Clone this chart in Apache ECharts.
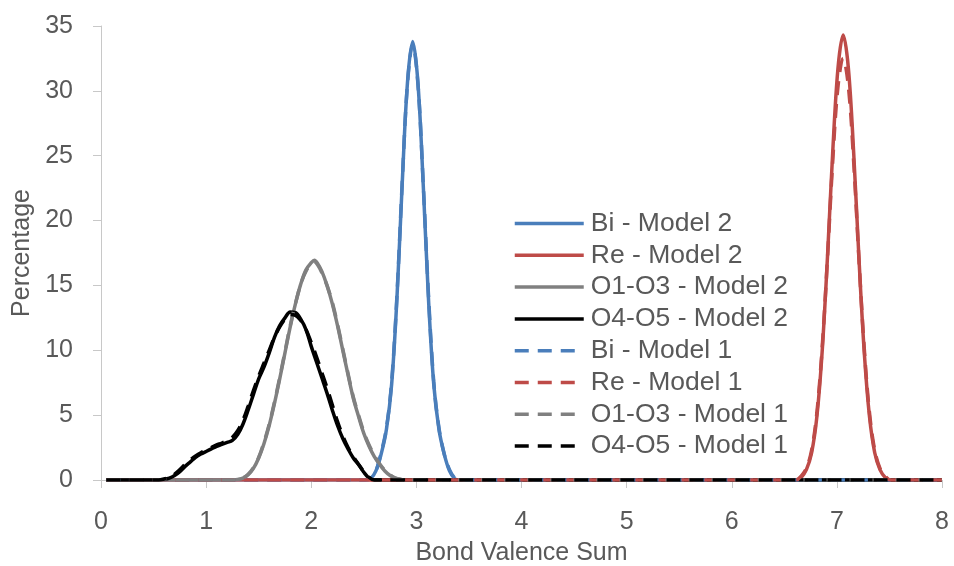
<!DOCTYPE html>
<html>
<head>
<meta charset="utf-8">
<script src="https://cdn.jsdelivr.net/npm/echarts@6/dist/echarts.min.js"></script>
<style>
html,body{margin:0;padding:0;background:#fff;}
#chart{width:954px;height:566px;}
</style>
</head>
<body>
<div id="chart"></div>
<script>
// ---- data ----
const rangeX = [0.05, 8];   // every curve runs flat along 0 from here to here

const biX  = [2.515,2.565,2.615,2.665,2.715,2.765,2.815,2.865,2.915,2.965,3.015,3.065,3.115,3.165,3.215,3.265,3.315,3.365,3.415];
const biM2 = [0,0.1,0.7,2.0,3.9,7.4,14.0,22.8,30.6,33.8,30.6,22.8,14.0,7.4,3.9,2.0,0.7,0.1,0];
const biM1 = [0,0.1,0.7,2.1,4.0,7.6,14.2,22.9,30.5,33.6,30.5,22.9,14.3,7.6,4.0,2.0,0.8,0.15,0];

const reX  = [6.61,6.66,6.71,6.76,6.81,6.86,6.91,6.96,7.01,7.06,7.11,7.16,7.21,7.26,7.31,7.36,7.41,7.46,7.51];
const reM2 = [0,0.2,0.8,2.1,4.9,9.9,17.1,25.2,31.7,34.3,31.7,25.2,17.1,9.9,4.9,2.1,0.8,0.2,0];
const reM1 = [0,0.3,0.9,2.3,5.2,10.2,17.0,24.5,30.3,32.5,30.3,24.5,17.0,10.2,5.2,2.3,0.9,0.3,0];

const oaX  = [1.20,1.25,1.30,1.35,1.40,1.45,1.50,1.55,1.60,1.65,1.70,1.75,1.80,1.85,1.90,1.95,2.00,2.03,2.06,2.10,2.15,2.20,2.25,2.30,2.35,2.40,2.45,2.50,2.55,2.60,2.65,2.70,2.75,2.80,2.85,2.90,2.95];
const oaM2 = [0,0,0.05,0.15,0.4,0.9,1.7,2.8,4.2,5.9,7.8,9.8,11.8,13.6,15.1,16.2,16.75,16.95,16.7,16.1,15.0,13.6,11.9,10.0,8.1,6.3,4.9,3.6,2.6,1.8,1.2,0.7,0.35,0.15,0.05,0,0];
const oaM1 = [0,0,0.05,0.15,0.45,0.95,1.75,2.9,4.3,6.0,7.9,9.9,11.9,13.6,15.1,16.1,16.65,16.8,16.6,16.0,15.0,13.7,12.0,10.1,8.2,6.4,5.0,3.7,2.7,1.9,1.25,0.75,0.4,0.15,0.05,0,0];

const obX  = [0.45,0.50,0.55,0.60,0.65,0.70,0.75,0.80,0.85,0.90,0.95,1.00,1.05,1.10,1.15,1.20,1.25,1.30,1.35,1.40,1.45,1.50,1.55,1.60,1.65,1.70,1.75,1.80,1.85,1.90,1.95,2.00,2.05,2.10,2.15,2.20,2.25,2.30,2.35,2.40,2.45,2.50,2.55,2.60,2.65,2.70];
const obM2 = [0,0,0,0.05,0.15,0.35,0.65,1.05,1.4,1.75,2.0,2.2,2.4,2.6,2.75,2.9,3.05,3.5,4.3,5.4,6.6,7.8,8.7,9.8,11.0,11.9,12.5,12.95,12.9,12.4,11.6,10.3,9.1,7.9,6.7,5.4,4.2,3.2,2.4,1.7,1.2,0.6,0.15,0,0,0];
const obM1 = [0,0,0,0.08,0.2,0.45,0.8,1.2,1.55,1.85,2.1,2.3,2.5,2.7,2.85,3.05,3.3,3.8,4.6,5.7,6.9,8.0,9.0,10.0,11.0,11.8,12.4,12.75,12.7,12.3,11.6,10.6,9.5,8.3,7.1,5.8,4.5,3.4,2.5,1.8,1.2,0.65,0.2,0,0,0];

const seriesNames = ['Bi - Model 2','Re - Model 2','O1-O3 - Model 2','O4-O5 - Model 2',
                     'Bi - Model 1','Re - Model 1','O1-O3 - Model 1','O4-O5 - Model 1'];

const xTicks = {min:0, max:8, step:1};
const yTicks = {min:0, max:35, step:5};

// ---- build ----
function pairs(xs, ys){
  const out = [[rangeX[0], 0]];
  for (let i = 0; i < xs.length; i++) out.push([xs[i], ys[i]]);
  out.push([rangeX[1], 0]);
  return out;
}
const colors = {bi:'#4A7EBB', re:'#BE4B48', oa:'#808080', ob:'#000000'};
const defs = [
  [biX, biM2, colors.bi, 'solid'],
  [reX, reM2, colors.re, 'solid'],
  [oaX, oaM2, colors.oa, 'solid'],
  [obX, obM2, colors.ob, 'solid'],
  [biX, biM1, colors.bi, 'dashed'],
  [reX, reM1, colors.re, 'dashed'],
  [oaX, oaM1, colors.oa, 'dashed'],
  [obX, obM1, colors.ob, 'dashed']
];
const FONT = 'Liberation Sans';
const TXT = '#595959';
const series = defs.map((d, i) => ({
  name: seriesNames[i],
  type: 'line',
  data: pairs(d[0], d[1]),
  smooth: 0.35,
  symbol: 'none',
  showSymbol: false,
  color: d[2],
  lineStyle: {color: d[2], width: 3.5, type: d[3] === 'dashed' ? [14, 9] : 'solid', cap: 'butt'},
  z: 2 + i,
  animation: false
}));

const chart = echarts.init(document.getElementById('chart'), null, {renderer: 'canvas'});
chart.setOption({
  backgroundColor: '#ffffff',
  animation: false,
  grid: {left: 101, right: 12, top: 26, bottom: 86, containLabel: false, outerBoundsMode: 'none'},
  legend: {
    data: seriesNames,
    orient: 'vertical',
    left: 513, top: 210, padding: 0,
    itemWidth: 69, itemHeight: 20, itemGap: 4.8,
    itemStyle: {opacity: 0},
    lineStyle: {width: 3.5},
    textStyle: {fontFamily: FONT, fontSize: 26.5, color: TXT, lineHeight: 26, padding: [0,0,0,2]}
  },
  xAxis: {
    type: 'value', min: xTicks.min, max: xTicks.max, interval: xTicks.step,
    name: 'Bond Valence Sum', nameLocation: 'middle', nameGap: 61,
    nameTextStyle: {fontFamily: FONT, fontSize: 25, color: TXT},
    axisLine: {show: true, lineStyle: {color: '#c8c8c8', width: 1}},
    axisTick: {show: true, length: 8, lineStyle: {color: '#c8c8c8'}},
    axisLabel: {fontFamily: FONT, fontSize: 25, color: TXT, margin: 30},
    splitLine: {show: false}
  },
  yAxis: {
    type: 'value', min: yTicks.min, max: yTicks.max, interval: yTicks.step,
    name: 'Percentage', nameLocation: 'middle', nameGap: 60,
    nameTextStyle: {fontFamily: FONT, fontSize: 25, color: TXT},
    axisLine: {show: true, lineStyle: {color: '#c8c8c8', width: 1}},
    axisTick: {show: true, length: 8, lineStyle: {color: '#c8c8c8'}},
    axisLabel: {fontFamily: FONT, fontSize: 25, color: TXT, margin: 28},
    splitLine: {show: false}
  },
  series: series
});
</script>
</body>
</html>
